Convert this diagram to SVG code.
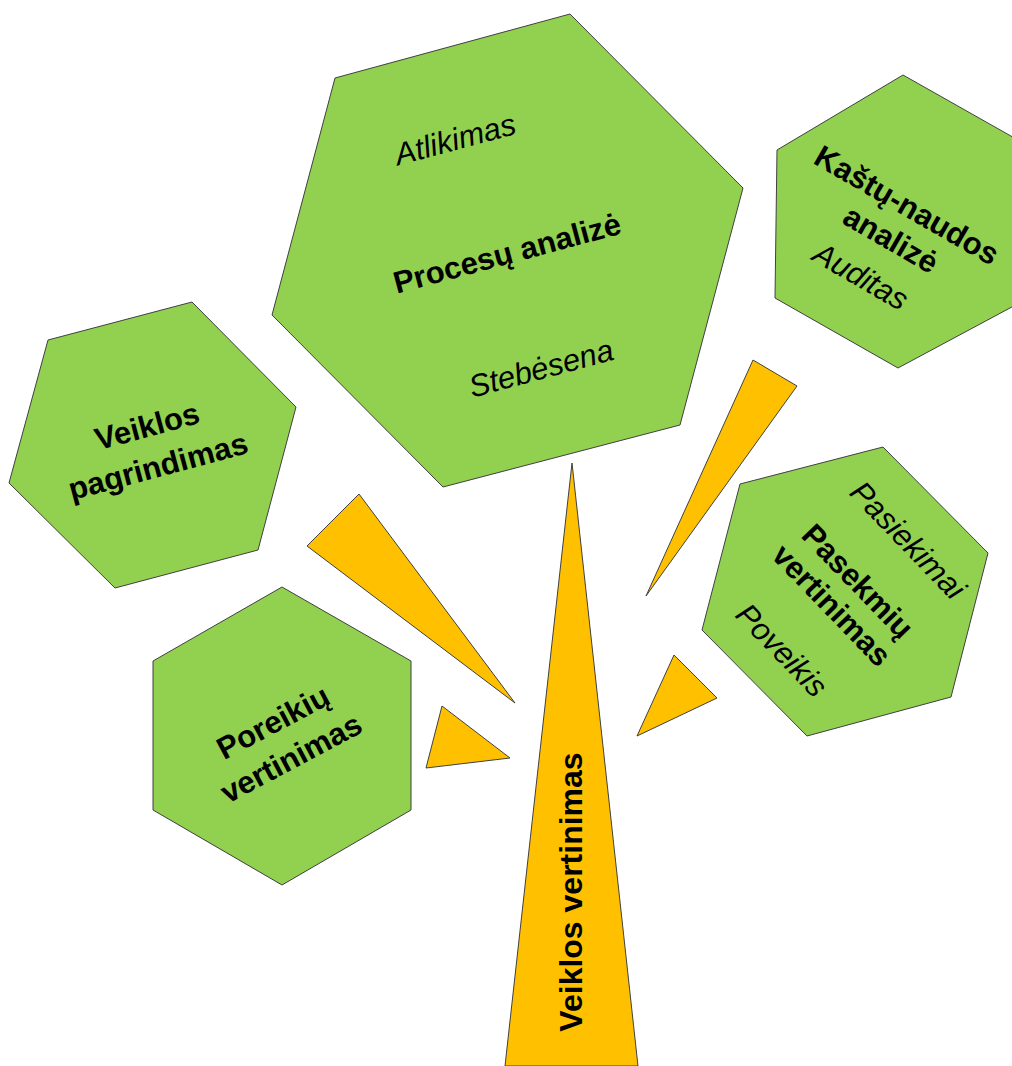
<svg xmlns="http://www.w3.org/2000/svg" width="1012" height="1066" viewBox="0 0 1012 1066">
<style>
.hex{fill:#92D050;stroke:#404040;stroke-width:1}
.tri{fill:#FFC000;stroke:#404040;stroke-width:1}
text{font-family:"Liberation Sans",Arial,sans-serif;font-size:31px;fill:#000;text-anchor:middle}
.b{font-weight:bold}
.i{font-style:italic}
</style>
<rect width="1012" height="1066" fill="#fff"/>
<g id="connectors">
<polygon class="tri" points="572,463 638,1066 505,1066"/>
<polygon class="tri" points="359,494 515,703 307,546"/>
<polygon class="tri" points="442,706 510,758 426,768"/>
<polygon class="tri" points="753,360 797,386 646,596"/>
<polygon class="tri" points="674,655 717,698 637,736"/>
</g>
<g id="node-procesu">
<polygon class="hex" points="570,14 743,188 680,425 443,487 272,315 335,78"/>
<text class="i" transform="translate(455,139) rotate(-15)" dy="0.35em">Atlikimas</text>
<text class="b" transform="translate(507,253) rotate(-15)" dy="0.35em">Procesų analizė</text>
<text class="i" transform="translate(541,368) rotate(-15)" dy="0.35em">Stebėsena</text>
</g>
<g id="node-kastu">
<polygon class="hex" points="903,75 1025,144 1023,301 898,368 775,298 777,150"/>
<text class="b" transform="translate(907,205) rotate(30)" dy="0.35em">Kaštų-naudos</text>
<text class="b" transform="translate(891,239) rotate(30)" dy="0.35em">analizė</text>
<text class="i" transform="translate(861,276) rotate(30)" dy="0.35em">Auditas</text>
</g>
<g id="node-veiklos-pagrindimas">
<polygon class="hex" points="192,302 296,407 258,550 115,588 9,483 48,340"/>
<text class="b" transform="translate(147,426) rotate(-15)" dy="0.35em">Veiklos</text>
<text class="b" transform="translate(158,466) rotate(-15)" dy="0.35em">pagrindimas</text>
</g>
<g id="node-poreikiu">
<polygon class="hex" points="282,587 411,661 411,810 282,885 153,810 153,661"/>
<text class="b" transform="translate(273,722) rotate(-28)" dy="0.35em">Poreikių</text>
<text class="b" transform="translate(291,758) rotate(-28)" dy="0.35em">vertinimas</text>
</g>
<g id="node-pasekmiu">
<polygon class="hex" points="883,447 988,553 951,697 807,736 702,630 740,484"/>
<text class="i" transform="translate(908,540) rotate(46)" dy="0.35em">Pasiekimai</text>
<text class="b" transform="translate(858,581) rotate(46)" dy="0.35em">Pasekmių</text>
<text class="b" transform="translate(832,605) rotate(46)" dy="0.35em">vertinimas</text>
<text class="i" transform="translate(782,650) rotate(46)" dy="0.35em">Poveikis</text>
</g>
<g id="node-veiklos-vertinimas">
<text class="b" transform="translate(571,892) rotate(-90)" dy="0.35em" style="font-size:32px">Veiklos vertinimas</text>
</g>
</svg>
